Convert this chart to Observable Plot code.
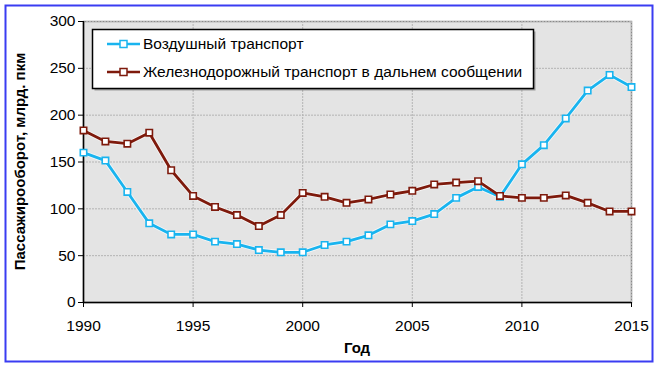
<!DOCTYPE html>
<html>
<head>
<meta charset="utf-8">
<script src="https://cdn.jsdelivr.net/npm/d3@7"></script>
<script src="https://cdn.jsdelivr.net/npm/@observablehq/plot@0.6"></script>
<style>
  html, body { margin: 0; padding: 0; background: #fff; }
  #chart svg { display: block; }
</style>
</head>
<body>
<div id="chart"></div>
<script>
const years = d3.range(1990, 2016);
const airValues = [160, 151.5, 118, 84.5, 72.7, 72.7, 65, 62.4, 56, 53.6, 53.6, 61.4, 65, 71.7, 83.4, 86.9, 94.4, 111.7, 123.4, 112.8, 147.5, 168, 196.5, 226.3, 243, 230];
const railValues = [183.7, 172, 169.6, 181.3, 141.2, 113.8, 102, 93.3, 81.6, 93.3, 117, 112.8, 106.4, 110, 115.3, 119.2, 126, 128, 129.5, 113.8, 111.7, 111.7, 114.3, 106.4, 97.2, 97.2];
const seriesNames = ["Воздушный транспорт", "Железнодорожный транспорт в дальнем сообщении"];
const seriesColors = ["#19b4ef", "#7e1a0c"];
const xTicks = [1990, 1995, 2000, 2005, 2010, 2015];
const yTicks = [0, 50, 100, 150, 200, 250, 300];
const xTitle = "Год";
const yTitle = "Пассажирооборот, млрд. пкм";

const data = [
  ...years.map((y, i) => ({year: y, value: airValues[i], series: seriesNames[0]})),
  ...years.map((y, i) => ({year: y, value: railValues[i], series: seriesNames[1]}))
];

const W = 660, H = 368;
const chart = Plot.plot({
  width: W, height: H,
  marginLeft: 83, marginRight: 29, marginTop: 21, marginBottom: 66,
  style: {fontFamily: "'Liberation Sans', Arial, sans-serif", fontSize: "15px", color: "#000", background: "transparent"},
  x: {domain: [1990, 2015], ticks: xTicks, tickFormat: d => String(d)},
  y: {domain: [0, 300], ticks: yTicks},
  color: {domain: seriesNames, range: seriesColors},
  marks: [
    Plot.frame({fill: "#e4e4e4", stroke: "#8a8a8a", strokeWidth: 1.5}),
    Plot.gridX(xTicks, {stroke: "#b4b4b4", strokeOpacity: 1, strokeWidth: 1, strokeDasharray: "2,1"}),
    Plot.gridY(yTicks, {stroke: "#b4b4b4", strokeOpacity: 1, strokeWidth: 1, strokeDasharray: "2,1"}),
    Plot.axisX(xTicks, {tickSize: 5, tickPadding: 12, label: null, fontSize: 15.5, tickFormat: d => String(d), stroke: "#000"}),
    Plot.axisY(yTicks, {tickSize: 5, tickPadding: 3, label: null, fontSize: 15.5, stroke: "#000"}),
    Plot.ruleX([1990], {stroke: "#000", strokeWidth: 1.5}),
    Plot.ruleY([0], {stroke: "#000", strokeWidth: 1.5}),
    Plot.line(data, {x: "year", y: "value", z: "series", stroke: "#ffffff", strokeWidth: 4.5, strokeOpacity: 0.7}),
    Plot.line(data, {x: "year", y: "value", z: "series", stroke: "series", strokeWidth: 2.8}),
    Plot.dot(data, {x: "year", y: "value", symbol: "square", r: 3.6, fill: "#fff", stroke: "series", strokeWidth: 1.6})
  ]
});

const svg = d3.select(chart);
// outer blue frame
svg.insert("rect", ":first-child")
  .attr("x", 5.5).attr("y", 5.5).attr("width", 647).attr("height", 356)
  .attr("fill", "#fff").attr("stroke", "#3a3cf2").attr("stroke-width", 2);

// axis titles
svg.append("text")
  .attr("x", (83 + 631) / 2).attr("y", 348).attr("dy", "0.35em")
  .attr("text-anchor", "middle").attr("font-weight", "bold").attr("font-size", 15)
  .text(xTitle);
svg.append("text")
  .attr("transform", `translate(20,${(21 + 302) / 2}) rotate(-90)`)
  .attr("dy", "0.35em")
  .attr("text-anchor", "middle").attr("font-weight", "bold").attr("font-size", 15)
  .text(yTitle);

// legend
const lg = svg.append("g");
lg.append("rect").attr("x", 94.5).attr("y", 31.5).attr("width", 441).attr("height", 59)
  .attr("fill", "#555").attr("stroke", "none").attr("opacity", 0.5);
lg.append("rect").attr("x", 92.5).attr("y", 29.5).attr("width", 441).attr("height", 59)
  .attr("fill", "#fff").attr("stroke", "#000").attr("stroke-width", 1.5);
const rowsY = [44, 72];
seriesNames.forEach((name, i) => {
  const y = rowsY[i];
  lg.append("line").attr("x1", 107).attr("x2", 140).attr("y1", y).attr("y2", y)
    .attr("stroke", seriesColors[i]).attr("stroke-width", 2.6);
  lg.append("rect").attr("x", 120).attr("y", y - 3.5).attr("width", 7).attr("height", 7)
    .attr("fill", "#fff").attr("stroke", seriesColors[i]).attr("stroke-width", 1.5);
  lg.append("text").attr("x", 143).attr("y", y).attr("dy", "0.35em")
    .attr("text-anchor", "start")
    .attr("font-size", 15.5).attr("fill", "#000").text(name);
});

document.getElementById("chart").appendChild(chart);
</script>
</body>
</html>
